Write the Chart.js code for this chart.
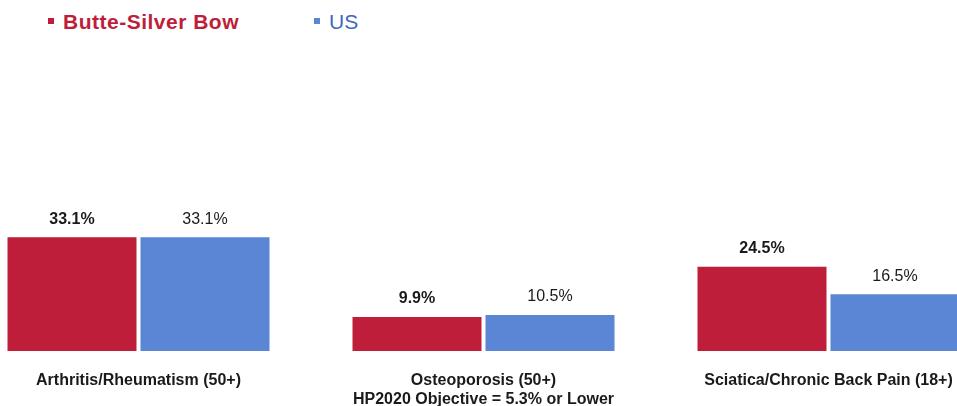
<!DOCTYPE html>
<html>
<head>
<meta charset="utf-8">
<script src="https://cdn.jsdelivr.net/npm/chart.js@4"></script>
<style>
  html, body { margin: 0; padding: 0; width: 957px; height: 406px; overflow: hidden; background: #fff; position: relative; }
  #wrap { position: absolute; left: -34px; top: 0; width: 1035px; height: 406px; }
  .leg { position: absolute; top: 9px; font-family: "Liberation Sans", Arial, sans-serif; font-size: 21px; line-height: 26px; white-space: nowrap; }
  .leg .sq { display: inline-block; width: 6px; height: 6px; vertical-align: middle; margin-right: 9px; position: relative; top: -2px; }
  #leg1 { left: 48px; color: #BE1E3A; font-weight: bold; letter-spacing: 0.5px; }
  #leg2 { left: 314px; color: #3E68C2; }
</style>
</head>
<body>
<div id="leg1" class="leg"><span class="sq" style="background:#BE1E3A"></span>Butte-Silver Bow</div>
<div id="leg2" class="leg"><span class="sq" style="background:#5B86D6"></span>US</div>
<div id="wrap"><canvas id="c"></canvas></div>
<script>
const categories = [
  "Arthritis/Rheumatism (50+)",
  ["Osteoporosis (50+)", "HP2020 Objective = 5.3% or Lower"],
  "Sciatica/Chronic Back Pain (18+)"
];
const seriesNames = ["Butte-Silver Bow", "US"];
const butteValues = [33.1, 9.9, 24.5];
const usValues = [33.1, 10.5, 16.5];

const RED = "#BE1E3A", BLUE = "#5B86D6";
const FONT = "'Liberation Sans Narrow', 'Liberation Sans', Arial, sans-serif";

const valueLabels = {
  id: "valueLabels",
  afterDatasetsDraw(chart) {
    const ctx = chart.ctx;
    ctx.save();
    ctx.textAlign = "center";
    ctx.textBaseline = "bottom";
    ctx.fillStyle = "#1a1a1a";
    chart.data.datasets.forEach((ds, di) => {
      const meta = chart.getDatasetMeta(di);
      ctx.font = (di === 0 ? "bold " : "") + "16px " + FONT;
      meta.data.forEach((bar, i) => {
        ctx.fillText(ds.data[i].toFixed(1) + "%", bar.x, bar.y - 10);
      });
    });
    ctx.restore();
  }
};

new Chart(document.getElementById("c"), {
  type: "bar",
  data: {
    labels: categories,
    datasets: [
      { label: seriesNames[0], data: butteValues, backgroundColor: RED },
      { label: seriesNames[1], data: usValues, backgroundColor: BLUE }
    ]
  },
  options: {
    responsive: true,
    maintainAspectRatio: false,
    animation: false,
    layout: { padding: { top: 7, left: 0, right: 0, bottom: 0 } },
    datasets: { bar: { categoryPercentage: 0.771, barPercentage: 0.97 } },
    plugins: { legend: { display: false }, tooltip: { enabled: false } },
    scales: {
      x: {
        grid: { display: false },
        border: { display: false },
        ticks: { color: "#1a1a1a", font: { family: FONT, size: 16, weight: "bold" }, padding: 12, maxRotation: 0, autoSkip: false },
        afterFit(scale) { scale.height = 55; }
      },
      y: { display: false, min: 0, max: 100 }
    }
  },
  plugins: [valueLabels]
});
</script>
</body>
</html>
